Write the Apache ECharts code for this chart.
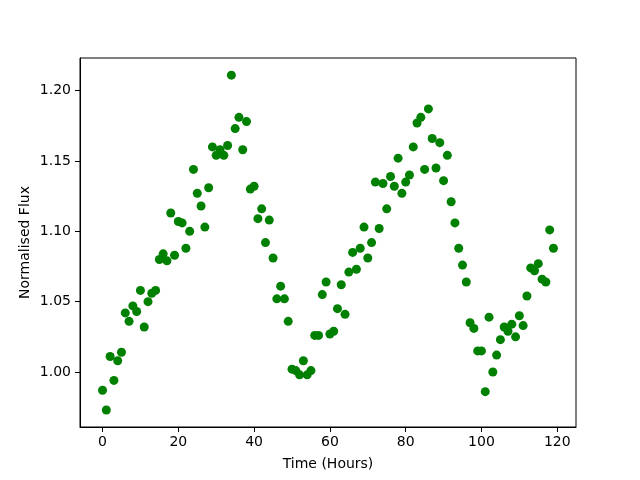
<!DOCTYPE html>
<html>
<head>
<meta charset="utf-8">
<script src="https://cdn.jsdelivr.net/npm/echarts@6/dist/echarts.min.js"></script>
<style>
  html, body { margin: 0; padding: 0; background: #fff; }
  #chart { width: 640px; height: 480px; }
</style>
</head>
<body>
<div id="chart"></div>
<script>
// time in hours, one reading each hour
var hours = [];
for (var h = 0; h < 120; h++) hours.push(h);

var flux = [
  0.987, 0.973, 1.011, 0.994, 1.008, 1.014, 1.042, 1.036, 1.047, 1.043,
  1.058, 1.032, 1.050, 1.056, 1.058, 1.080, 1.084, 1.079, 1.113, 1.083,
  1.107, 1.106, 1.088, 1.100, 1.144, 1.127, 1.118, 1.103, 1.131, 1.160,
  1.154, 1.158, 1.154, 1.161, 1.211, 1.173, 1.181, 1.158, 1.178, 1.130,
  1.132, 1.109, 1.116, 1.092, 1.108, 1.081, 1.052, 1.061, 1.052, 1.036,
  1.002, 1.001, 0.998, 1.008, 0.998, 1.001, 1.026, 1.026, 1.055, 1.064,
  1.027, 1.029, 1.045, 1.062, 1.041, 1.071, 1.085, 1.073, 1.088, 1.103,
  1.081, 1.092, 1.135, 1.102, 1.134, 1.116, 1.139, 1.132, 1.152, 1.127,
  1.135, 1.140, 1.160, 1.177, 1.181, 1.144, 1.187, 1.166, 1.145, 1.163,
  1.136, 1.154, 1.121, 1.106, 1.088, 1.076, 1.064, 1.035, 1.031, 1.015,
  1.015, 0.986, 1.039, 1.000, 1.012, 1.023, 1.032, 1.029, 1.034, 1.025,
  1.040, 1.033, 1.054, 1.074, 1.072, 1.077, 1.066, 1.064, 1.101, 1.088
];

var xTicks = [0, 20, 40, 60, 80, 100, 120];
var yTicks = [1.00, 1.05, 1.10, 1.15, 1.20];

var points = [];
for (var i = 0; i < hours.length; i++) points.push([hours[i], flux[i]]);

var font = 'DejaVu Sans';
var chart = echarts.init(document.getElementById('chart'), null, { renderer: 'canvas' });

var option = {
  animation: false,
  backgroundColor: '#ffffff',
  grid: {
    left: 80, right: 64, top: 58, bottom: 53,
    show: true, borderColor: '#000', borderWidth: 1, backgroundColor: 'transparent'
  },
  xAxis: {
    type: 'value',
    min: -5.95, max: 124.95,
    name: 'Time (Hours)',
    nameLocation: 'middle',
    nameGap: 30,
    nameMoveOverlap: false,
    nameTextStyle: { fontFamily: font, fontSize: 14, color: '#000' },
    axisLine: { show: true, onZero: false, lineStyle: { color: '#000', width: 1 } },
    axisTick: { show: true, inside: false, length: 5, lineStyle: { color: '#000' }, customValues: xTicks },
    axisLabel: { fontFamily: font, fontSize: 14, color: '#000', margin: 8, customValues: xTicks },
    splitLine: { show: false }
  },
  yAxis: {
    type: 'value',
    min: 0.9609, max: 1.2232,
    name: 'Normalised Flux',
    nameLocation: 'middle',
    nameGap: 48,
    nameMoveOverlap: false,
    nameTextStyle: { fontFamily: font, fontSize: 14, color: '#000' },
    axisLine: { show: true, onZero: false, lineStyle: { color: '#000', width: 1 } },
    axisTick: { show: true, inside: false, length: 5, lineStyle: { color: '#000' }, customValues: yTicks },
    axisLabel: {
      fontFamily: font, fontSize: 14, color: '#000', margin: 9, customValues: yTicks,
      formatter: function (v) { return v.toFixed(2); }
    },
    splitLine: { show: false }
  },
  series: [
    {
      type: 'scatter',
      data: points,
      symbol: 'circle',
      symbolSize: 9,
      itemStyle: { color: '#008000', opacity: 1 }
    }
  ]
};
chart.setOption(option);
</script>
</body>
</html>
